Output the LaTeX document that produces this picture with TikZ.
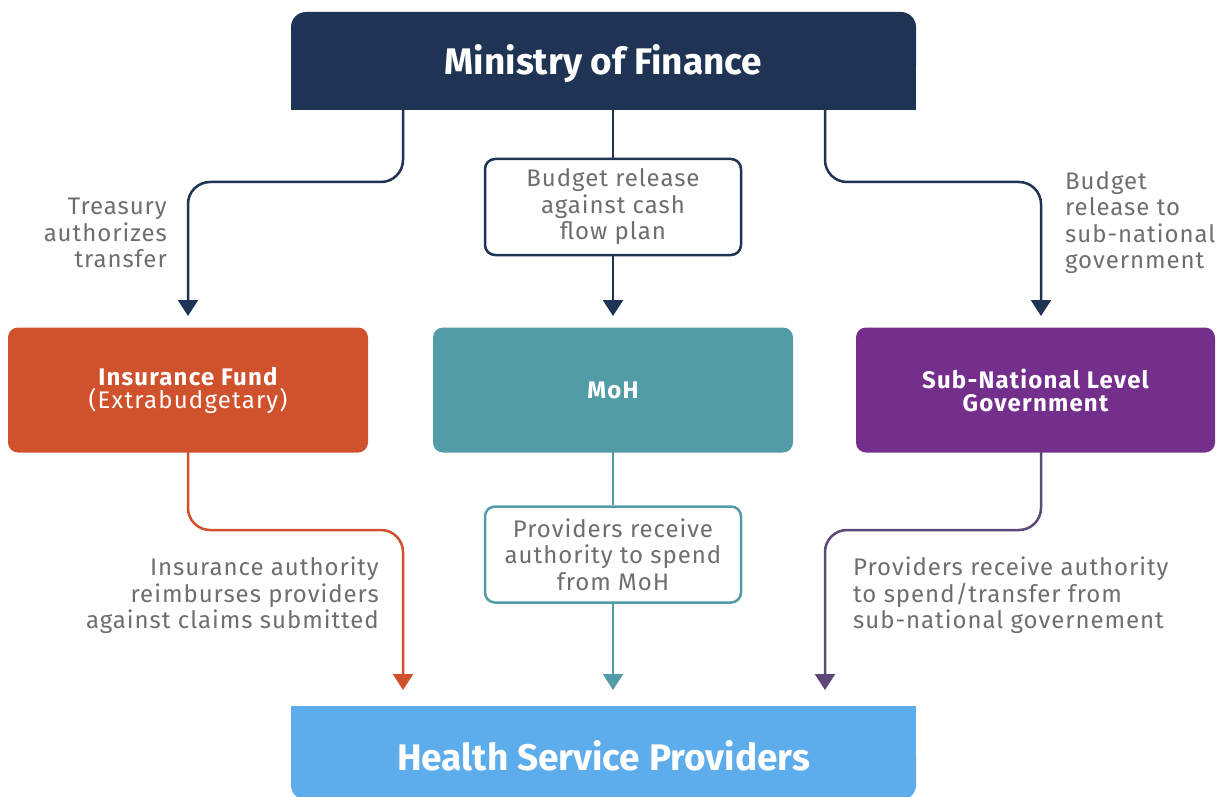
\documentclass[tikz,border=0pt]{standalone}
\usepackage{fontspec}
\setmainfont{Fira Sans}
\newfontfamily\lblfont[LetterSpace=4]{Fira Sans}
\newfontfamily\boxfont[LetterSpace=5]{Fira Sans}
\usetikzlibrary{arrows.meta}
\definecolor{navy}{HTML}{1F3354}
\definecolor{orng}{HTML}{D0522C}
\definecolor{teal}{HTML}{519CA6}
\definecolor{purp}{HTML}{742E8C}
\definecolor{purpline}{HTML}{5C4878}
\definecolor{sky}{HTML}{5DADEC}
\definecolor{txtgray}{HTML}{6D6E71}
\tikzset{
  conn/.style={line width=2.5pt, rounded corners=22pt, -{Triangle[width=20pt,length=16pt]}},
  seg/.style={line width=2.5pt},
  lbl/.style={text=txtgray, font=\lblfont\fontsize{24}{26.5}\selectfont, inner sep=0pt},
  midbox/.style={rounded corners=10pt, minimum width=360pt, minimum height=125pt, text=white,
     font=\boxfont\fontsize{24}{24}\selectfont\bfseries, align=center},
  smallbox/.style={draw, line width=2.5pt, fill=white, rounded corners=10pt, minimum width=256pt,
     minimum height=96pt, text=txtgray, font=\lblfont\fontsize{24}{26.5}\selectfont, align=center, inner sep=0pt},
  bigtxt/.style={text=white, font=\fontsize{37}{40}\selectfont\bfseries, minimum width=625pt},
}
\begin{document}
\begin{tikzpicture}[x=1pt,y=-1pt]
\useasboundingbox (0,0) rectangle (1219,797);
\clip (0,0) rectangle (1219,797);
% Top box
\fill[navy, rounded corners=15pt] (291,12) rectangle (916,80);
\fill[navy] (291,50) rectangle (916,110);
\node[bigtxt, minimum height=98pt] (mof) at (603.5,64) {Ministry of Finance};
% Bottom box
\fill[sky, rounded corners=15pt] (291,740) rectangle (916,800);
\fill[sky] (291,706) rectangle (916,760);
\node[bigtxt, minimum height=94pt] (hsp) at (603.5,756) {Health Service Providers};
% Middle boxes
\node[midbox, fill=orng] (insf) at (188,390) {Insurance Fund\\[-1pt]{\mdseries (Extrabudgetary)}};
\node[midbox, fill=teal] (moh) at (613,390) {MoH};
\node[midbox, fill=purp, minimum width=359pt] (snl) at (1035.5,390) {Sub-National Level\\[-1pt]Government};
% Small boxes
\node[smallbox, draw=navy] (bud) at (613,207) {Budget release\\against cash\\flow plan};
\node[smallbox, draw=teal] (prm) at (613,554.5) {Providers receive\\authority to spend\\from MoH};
% Coordinates
\coordinate (t1) at (403,110);
\coordinate (t2) at (613,110);
\coordinate (t3) at (825,110);
\coordinate (k1) at (188,182);
\coordinate (k3) at (1041,182);
\coordinate (a1) at (188,316);
\coordinate (a2) at (613,316);
\coordinate (a3) at (1041,316);
\coordinate (b1) at (188,451);
\coordinate (b2) at (613,451);
\coordinate (b3) at (1041,451);
\coordinate (m1) at (403,530);
\coordinate (m3) at (825,530);
\coordinate (e1) at (403,690);
\coordinate (e2) at (613,690);
\coordinate (e3) at (825,690);
% Connectors top
\draw[conn, navy] (t1) |- (k1) -- (a1);
\draw[seg, navy] (t2) -- (bud.north);
\draw[conn, navy] (bud.south) -- (a2);
\draw[conn, navy] (t3) |- (k3) -- (a3);
% Connectors bottom
\draw[conn, orng] (b1) |- (m1) -- (e1);
\draw[seg, teal] (b2) -- (prm.north);
\draw[conn, teal] (prm.south) -- (e2);
\draw[conn, purpline] (b3) |- (m3) -- (e3);
% Labels
\node[lbl, align=right, anchor=north east] (l1) at (167,198) {Treasury\\authorizes\\transfer};
\node[lbl, align=left, anchor=north west] (l3) at (1065,171) {Budget\\release to\\sub-national\\government};
\node[lbl, align=right, anchor=north east] (l4) at (379,557) {Insurance authority\\reimburses providers\\against claims submitted};
\node[lbl, align=left, anchor=north west] (l6) at (853,557) {Providers receive authority\\to spend/transfer from\\sub-national governement};
\end{tikzpicture}
\end{document}
